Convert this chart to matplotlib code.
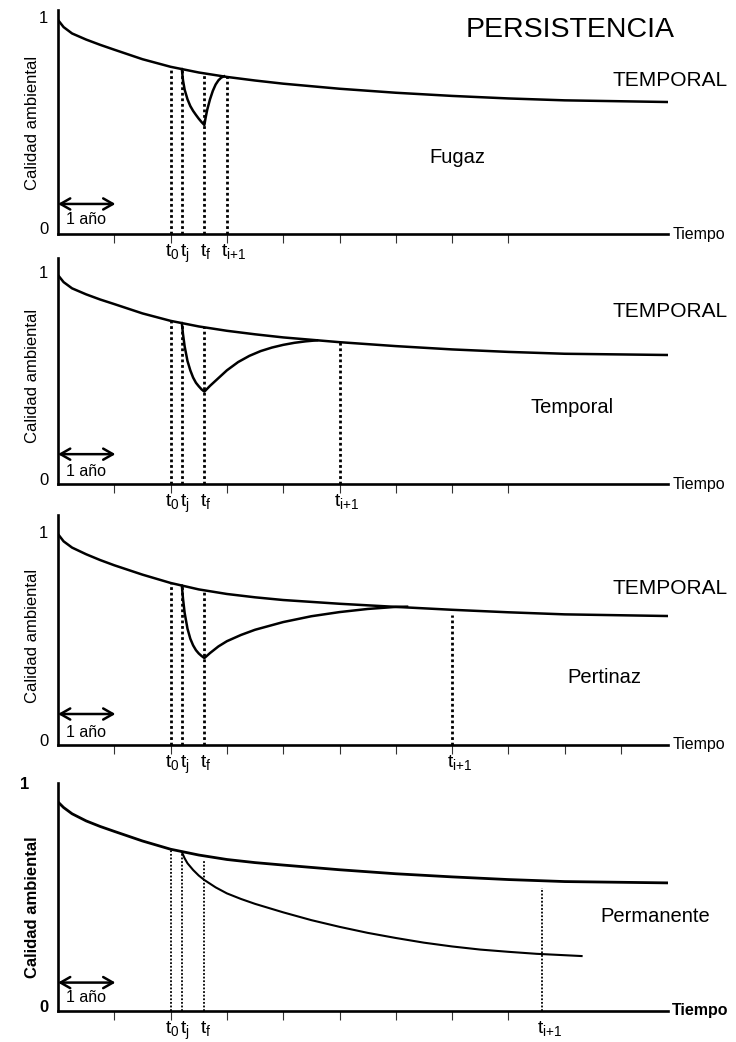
import matplotlib
matplotlib.use("Agg")
import matplotlib.pyplot as plt
import matplotlib.transforms as mtransforms

plt.rcParams['font.family'] = ['Liberation Sans', 'DejaVu Sans']
plt.rcParams['mathtext.fontset'] = 'custom'
plt.rcParams['mathtext.rm'] = 'Liberation Sans'
plt.rcParams['mathtext.it'] = 'Liberation Sans:italic'

# --- data (years, environmental quality 0..1) ---
base_t = [0, 0.1, 0.25, 0.5, 0.75, 1, 1.5, 2, 2.5, 3, 3.5, 4, 5, 6, 7, 8, 9, 10.85]
base_p1 = [0.986, 0.952, 0.922, 0.893, 0.868, 0.845, 0.800, 0.764, 0.737, 0.716, 0.699, 0.684, 0.660, 0.641, 0.626, 0.614, 0.605, 0.597]
base_p2 = [0.985, 0.951, 0.921, 0.892, 0.867, 0.845, 0.800, 0.764, 0.737, 0.716, 0.699, 0.684, 0.661, 0.642, 0.626, 0.614, 0.605, 0.599]
base_p3 = [0.990, 0.955, 0.925, 0.893, 0.865, 0.840, 0.795, 0.755, 0.724, 0.702, 0.686, 0.673, 0.655, 0.640, 0.626, 0.614, 0.604, 0.596]
base_p4 = [0.915, 0.890, 0.862, 0.830, 0.805, 0.783, 0.740, 0.703, 0.677, 0.657, 0.643, 0.632, 0.611, 0.593, 0.579, 0.567, 0.558, 0.552]

# impact curves
fugaz_t = [2.2, 2.22, 2.25, 2.3, 2.35, 2.4, 2.45, 2.5, 2.55, 2.6,
           2.62, 2.65, 2.7, 2.75, 2.8, 2.85, 2.9, 2.95]
fugaz_v = [0.753, 0.70, 0.655, 0.61, 0.578, 0.555, 0.536, 0.518, 0.502, 0.488,
           0.52, 0.56, 0.61, 0.65, 0.68, 0.70, 0.713, 0.719]
temporal_t = [2.2, 2.22, 2.25, 2.3, 2.35, 2.4, 2.45, 2.5, 2.55, 2.6,
              2.7, 2.8, 3.0, 3.2, 3.4, 3.6, 3.8, 4.0, 4.2, 4.4, 4.6]
temporal_v = [0.753, 0.70, 0.64, 0.57, 0.525, 0.49, 0.465, 0.448, 0.433, 0.422,
              0.45, 0.475, 0.525, 0.565, 0.595, 0.618, 0.635, 0.648, 0.658, 0.665, 0.670]
pertinaz_t = [2.2, 2.22, 2.25, 2.3, 2.35, 2.4, 2.45, 2.5, 2.55, 2.6,
              2.7, 2.85, 3.0, 3.25, 3.5, 4.0, 4.5, 5.0, 5.5, 6.0, 6.2]
pertinaz_v = [0.742, 0.68, 0.61, 0.535, 0.487, 0.455, 0.432, 0.416, 0.404, 0.394,
              0.418, 0.45, 0.475, 0.505, 0.53, 0.567, 0.595, 0.615, 0.630, 0.640, 0.641]
perman_t = [2.2, 2.25, 2.3, 2.4, 2.5, 2.6, 2.8, 3.0, 3.25, 3.5, 4.0, 4.5, 5.0, 5.5, 6.0, 6.5, 7.0, 7.5, 8.0, 8.5, 9.3]
perman_v = [0.690, 0.662, 0.640, 0.610, 0.585, 0.565, 0.532, 0.505, 0.480, 0.458, 0.420, 0.385, 0.355, 0.328,
            0.305, 0.284, 0.267, 0.253, 0.243, 0.234, 0.224]

t0, tj, tf = 2.0, 2.2, 2.6
t_next = [3.0, 5.0, 7.0, 8.6]
# top of the dotted lines (t0, tj, tf, t_i+1)
dot_tops = [[0.764, 0.753, 0.732, 0.716],
            [0.764, 0.753, 0.732, 0.661],
            [0.755, 0.742, 0.717, 0.60],
            [0.703, 0.69, 0.65, 0.53]]
n_ticks = [8, 8, 10, 8]

bases = [base_p1, base_p2, base_p3, base_p4]
impacts = [(fugaz_t, fugaz_v), (temporal_t, temporal_v), (pertinaz_t, pertinaz_v), (perman_t, perman_v)]
names = ['Fugaz', 'Temporal', 'Pertinaz', 'Permanente']
name_pos = [(7.1, 0.336), (9.13, 0.343), (9.7, 0.30), (10.6, 0.40)]
temporal_y = [0.70, 0.807, 0.726, None]
arrow_y = [0.114, 0.12, 0.125, 0.105]

# pixel layout of the four panels
W, H = 736, 1042
zero_px = [228, 479, 740, 1006]
one_px = [17, 272, 532, 783]
axis_px = [234, 484, 745, 1011]
top_px = [10, 258, 515, 783]
x_left, x_right, px_year = 58, 668, 56.3

fig = plt.figure(figsize=(W / 100, H / 100), dpi=100)

for i in range(4):
    s = zero_px[i] - one_px[i]
    ax = fig.add_axes([x_left / W, 1 - axis_px[i] / H, (x_right - x_left) / W, (axis_px[i] - top_px[i]) / H])
    ax.patch.set_alpha(0)
    ybot = (zero_px[i] - axis_px[i]) / s
    ax.set_ylim(ybot, (zero_px[i] - top_px[i]) / s)
    ax.set_xlim(0, (x_right - x_left) / px_year)
    for sp in ['top', 'right']:
        ax.spines[sp].set_visible(False)
    for sp in ['left', 'bottom']:
        ax.spines[sp].set_linewidth(1.9)
    bold = 'bold' if i == 3 else 'normal'

    ax.set_xticks(range(1, n_ticks[i] + 1))
    ax.set_xticklabels([])
    ax.tick_params(axis='x', direction='out', length=6.5, width=0.8, color='#333333')
    ax.set_yticks([0, 1])
    ax.set_yticklabels(['0', '1'], fontsize=12, fontweight=bold)
    ax.tick_params(axis='y', length=0, pad=7)
    if i == 3:
        lab = ax.get_yticklabels()[1]
        lab.set_transform(lab.get_transform() + mtransforms.ScaledTranslation(-14 / 72, 0, fig.dpi_scale_trans))

    # curves
    ax.plot(base_t, bases[i], color='black', lw=2.0 if i == 3 else 1.8,
            solid_capstyle='butt', solid_joinstyle='round')
    it, iv = impacts[i]
    ax.plot(it, iv, color='black', lw=1.5 if i == 3 else 1.8, solid_joinstyle='round')

    # dotted markers
    dlw = 1.3 if i == 3 else 2.0
    for t, top in zip([t0, tj, tf, t_next[i]], dot_tops[i]):
        ax.plot([t, t], [ybot, top], color='black', lw=dlw, linestyle=(0, (1, 1)), dash_capstyle='butt')

    # t labels under the axis
    trans = ax.get_xaxis_transform()
    labels = [(t0, r'$\mathregular{t_0}$', -4), (tj, r'$\mathregular{t_j}$', -1),
              (tf, r'$\mathregular{t_f}$', -3), (t_next[i], r'$\mathregular{t_{i{+}1}}$', -4)]
    for t, txt, dx in labels:
        ax.annotate(txt, xy=(t, 0), xycoords=trans, xytext=(dx, -6), textcoords='offset points',
                    ha='left', va='top', fontsize=14)

    # 1 year arrow
    ax.annotate('', xy=(0, arrow_y[i]), xytext=(1.02, arrow_y[i]),
                arrowprops=dict(arrowstyle='<->,head_length=0.7,head_width=0.4', lw=1.8, color='black',
                                shrinkA=0, shrinkB=0))
    ax.text(0.14, 0.038, '1 año', fontsize=11.5, ha='left', va='center')

    ax.annotate('Tiempo', xy=(1, ybot), xycoords=('axes fraction', 'data'), xytext=(3, 0),
                textcoords='offset points', fontsize=11.5, ha='left', va='center', fontweight=bold,
                annotation_clip=False)
    ax.text(name_pos[i][0], name_pos[i][1], names[i], fontsize=14.5, ha='center', va='center')
    if temporal_y[i] is not None:
        ax.text(11.9, temporal_y[i], 'TEMPORAL', fontsize=15, ha='right', va='center', clip_on=False)

    fig.text(33 / W, 1 - (zero_px[i] + one_px[i]) / 2 / H + (0 if i < 3 else -0.012), 'Calidad ambiental',
             rotation=90, fontsize=12, ha='center', va='center', fontweight=bold)

    if i == 0:
        ax.text(9.1, 0.938, 'PERSISTENCIA', fontsize=20.5, ha='center', va='center')

fig.savefig('out.png', dpi=100, facecolor='white')
